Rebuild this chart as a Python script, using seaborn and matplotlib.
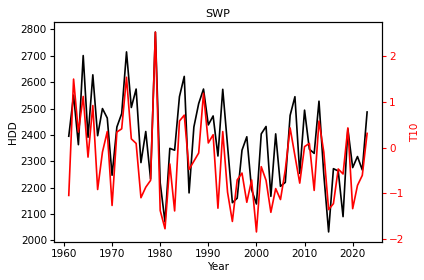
import seaborn as sns
import numpy as np
import pandas as pd
import matplotlib.pyplot as plt

years = list(range(1961, 2024))

hdd = [2395, 2551, 2363, 2701, 2391, 2628, 2397, 2500, 2464, 2247,
       2430, 2481, 2715, 2504, 2574, 2295, 2413, 2233, 2790, 2218,
       2070, 2349, 2342, 2545, 2622, 2180, 2430, 2519, 2574, 2438,
       2472, 2320, 2573, 2359, 2143, 2160, 2342, 2393, 2192, 2138,
       2404, 2432, 2167, 2404, 2205, 2220, 2474, 2545, 2254, 2494,
       2346, 2330, 2528, 2250, 2032, 2272, 2263, 2090, 2423, 2276,
       2318, 2267, 2487]

t10 = [-1.05, 1.50, 0.34, 1.12, -0.21, 0.92, -0.92, -0.10, 0.35, -1.27,
       0.34, 0.41, 1.54, 0.19, 0.09, -1.10, -0.87, -0.72, 2.53, -1.38,
       -1.78, -0.36, -1.39, 0.58, 0.71, -0.48, -0.30, -0.12, 1.19, 0.10,
       0.28, -1.33, 0.35, -0.98, -1.62, -0.71, -0.56, -1.20, -0.71, -1.85,
       -0.42, -0.72, -1.42, -0.90, -1.14, -0.49, 0.43, -0.18, -0.78, 0.02,
       0.09, -0.94, 0.58, -0.10, -1.36, -1.23, -0.47, -0.58, 0.43, -1.34,
       -0.83, -0.61, 0.31]

df = pd.DataFrame({"Year": years, "HDD": hdd, "T10": t10})

fs = 7.5
fig, ax = plt.subplots(figsize=(4.24, 2.8), dpi=100)
sns.lineplot(data=df, x="Year", y="HDD", color="black", linewidth=1.2, ax=ax)
ax.set_title("SWP", fontsize=fs + 0.5, pad=4)
ax.set_xlabel("Year", fontsize=fs, labelpad=2)
ax.set_ylabel("HDD", fontsize=fs, labelpad=2)

ax2 = ax.twinx()
sns.lineplot(data=df, x="Year", y="T10", color="red", linewidth=1.2, ax=ax2)
ax2.set_ylabel("T10", color="red", fontsize=fs, labelpad=4)
ax2.tick_params(axis="y", colors="red")

for a in (ax, ax2):
    a.tick_params(labelsize=fs, length=3, pad=2)
ax2.tick_params(axis="y", colors="red")

fig.subplots_adjust(left=0.127, right=0.901, top=0.921, bottom=0.136)
fig.savefig("out.png")
